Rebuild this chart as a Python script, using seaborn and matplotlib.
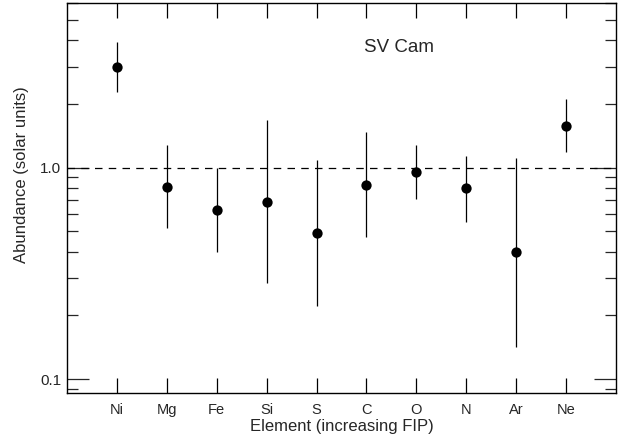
import matplotlib
matplotlib.use("Agg")
import matplotlib.pyplot as plt
import matplotlib.ticker as mticker
import numpy as np
import pandas as pd
import seaborn as sns

elements = ["Ni", "Mg", "Fe", "Si", "S", "C", "O", "N", "Ar", "Ne"]
abundance = [2.99, 0.81, 0.63, 0.69, 0.49, 0.83, 0.95, 0.80, 0.40, 1.58]
upper = [3.93, 1.28, 1.00, 1.68, 1.09, 1.47, 1.28, 1.14, 1.115, 2.12]
lower = [2.28, 0.516, 0.398, 0.283, 0.221, 0.467, 0.712, 0.552, 0.142, 1.18]

sns.set_style("ticks")
plt.rcParams['font.family'] = ['Liberation Sans', 'DejaVu Sans']

fig = plt.figure(figsize=(6.2, 4.41), dpi=100)
ax = fig.add_axes([67/620, 48/441, 549/620, 390/441])

df = pd.DataFrame({"Element": elements, "Abundance": abundance,
                   "lo": lower, "hi": upper})
xpos = np.arange(len(elements))

ax.axhline(1.0, color="black", lw=0.9, ls=(0, (6, 5)), zorder=1)
ax.vlines(xpos, df["lo"], df["hi"], color="black", lw=0.9, zorder=2)
sns.scatterplot(x=xpos, y=df["Abundance"], ax=ax, color="black", s=55,
                edgecolor="black", linewidth=0, zorder=3, legend=False)

ax.set_yscale("log")
ax.set_ylim(0.0859, 6.0)
ax.set_xlim(-1, len(elements))
ax.set_xticks(xpos)
ax.set_xticklabels(elements)
ax.yaxis.set_major_locator(mticker.FixedLocator([0.1, 1.0]))
ax.yaxis.set_major_formatter(mticker.FixedFormatter(["0.1", "1.0"]))
minors = [0.09] + [i / 10 for i in range(2, 10)] + [2, 3, 4, 5, 6]
ax.yaxis.set_minor_locator(mticker.FixedLocator(minors))
ax.yaxis.set_minor_formatter(mticker.NullFormatter())

ax.tick_params(axis="x", which="major", direction="in", length=11, width=0.9,
               top=True, bottom=True, labelsize=10.5, pad=7, color="black")
ax.tick_params(axis="x", which="minor", bottom=False, top=False)
ax.tick_params(axis="y", which="major", direction="in", length=16, width=0.9,
               left=True, right=True, labelsize=11, pad=4)
ax.tick_params(axis="y", which="minor", direction="in", length=8, width=0.9,
               left=True, right=True)
for sp in ax.spines.values():
    sp.set_linewidth(1.0)
    sp.set_color("black")

ax.set_xlabel("Element (increasing FIP)", fontsize=12, labelpad=2)
ax.set_ylabel("Abundance (solar units)", fontsize=12)
ax.yaxis.set_label_coords(-0.0692, 0.559)
ax.text(5.65, 3.70, "SV Cam", fontsize=13.5, ha="center", va="center")

fig.savefig("out.png", dpi=100)
